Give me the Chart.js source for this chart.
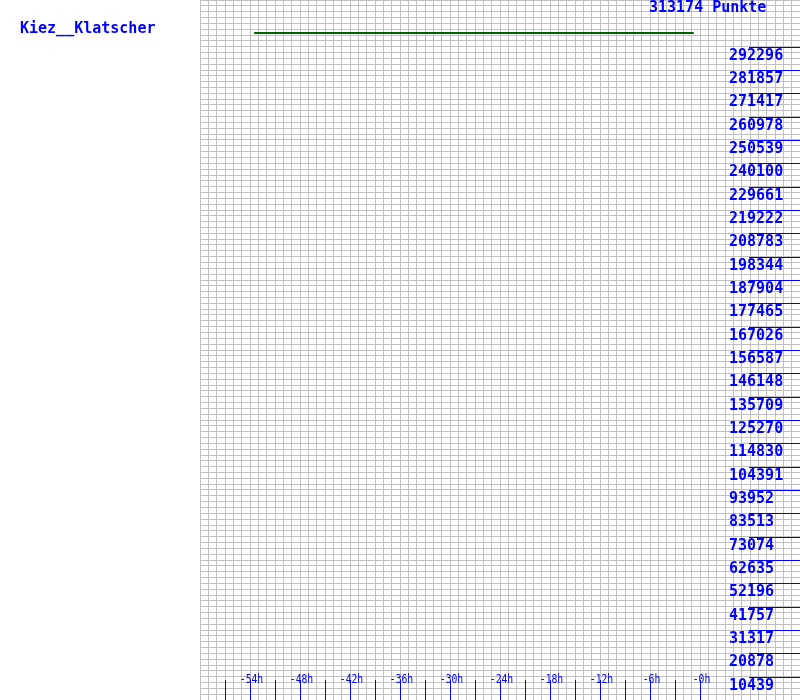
<!DOCTYPE html>
<html>
<head>
<meta charset="utf-8">
<script src="https://cdn.jsdelivr.net/npm/chart.js@4/dist/chart.umd.min.js"></script>
<style>
html,body{margin:0;padding:0;background:#fff;}
#wrap{width:800px;height:700px;}
</style>
</head>
<body>
<div id="wrap"><canvas id="c" width="800" height="700"></canvas></div>
<script>
// ---- data ----
const playerName = "Kiez__Klatscher";
const maxPoints = 313174;
const titleText = "313174 Punkte";
const hoursX = [-53.5, -0.75];
const pointsY = [298400, 298400];
const yTickLabels = [10439, 20878, 31317, 41757, 52196, 62635, 73074, 83513, 93952, 104391,
  114830, 125270, 135709, 146148, 156587, 167026, 177465, 187904, 198344, 208783,
  219222, 229661, 240100, 250539, 260978, 271417, 281857, 292296];
const xTickLabels = [-54, -48, -42, -36, -30, -24, -18, -12, -6, 0];
const xTickMarks = [-57, -54, -51, -48, -45, -42, -39, -36, -33, -30, -27, -24, -21, -18, -15, -12, -9, -6, -3, 0];
const xMin = -60, xMax = 12;
const gridRowsY = 120;

const BLUE = 'rgb(0,0,255)';

const decorPlugin = {
  id: 'decor',
  beforeDraw(chart) {
    const ctx = chart.ctx;
    ctx.save();
    ctx.fillStyle = '#ffffff';
    ctx.fillRect(0, 0, chart.width, chart.height);
    ctx.restore();
  },
  afterDatasetsDraw(chart) {
    const ctx = chart.ctx;
    const xs = chart.scales.x, ys = chart.scales.y;
    const area = chart.chartArea;
    ctx.save();
    ctx.globalAlpha = 1;
    ctx.globalCompositeOperation = 'source-over';
    ctx.fillStyle = BLUE;
    // y-axis marker lines and labels
    ctx.font = 'bold 15px "DejaVu Sans Mono"';
    ctx.textAlign = 'left';
    ctx.textBaseline = 'alphabetic';
    yTickLabels.forEach(v => {
      const py = Math.round(ys.getPixelForValue(v));
      ctx.fillRect(area.right - 51, py, 51, 1);
      ctx.fillText(String(v), area.right - 71, py + 12.5);
    });
    // bottom tick marks
    xTickMarks.forEach(h => {
      const px = Math.round(xs.getPixelForValue(h));
      ctx.fillRect(px, area.bottom - 20, 1, 20);
    });
    // bottom labels (narrow mono)
    ctx.font = '13px "DejaVu Sans Mono"';
    ctx.textAlign = 'center';
    xTickLabels.forEach(h => {
      const px = xs.getPixelForValue(h);
      ctx.save();
      ctx.translate(px + 1.5, area.bottom - 17.5);
      ctx.scale(0.75, 1);
      ctx.fillText('-' + Math.abs(h) + 'h', 0, 0);
      ctx.restore();
    });
    // titles
    ctx.font = 'bold 15px "DejaVu Sans Mono"';
    ctx.textAlign = 'left';
    ctx.fillText(titleText, 649, 11.5);
    ctx.fillText(playerName, 20, 32.5);
    ctx.restore();
  }
};

new Chart(document.getElementById('c'), {
  type: 'line',
  data: {
    datasets: [{
      data: hoursX.map((h, i) => ({x: h, y: pointsY[i]})),
      borderColor: '#006400',
      borderWidth: 2,
      pointRadius: 0,
      tension: 0,
      fill: false
    }]
  },
  options: {
    responsive: false,
    animation: false,
    devicePixelRatio: 1,
    layout: {padding: {left: 200, right: 0, top: 0, bottom: 0}},
    plugins: {legend: {display: false}, tooltip: {enabled: false}, title: {display: false}},
    scales: {
      x: {
        type: 'linear', min: xMin, max: xMax,
        ticks: {display: false, stepSize: 6},
        grid: {color: '#c0c0c0', lineWidth: 1, drawTicks: false},
        border: {display: false},
        afterBuildTicks(scale) {
          const t = [];
          for (let h = xMin; h <= xMax; h++) t.push({value: h});
          scale.ticks = t;
        }
      },
      y: {
        type: 'linear', min: 0, max: maxPoints,
        ticks: {display: false},
        grid: {color: '#c0c0c0', lineWidth: 1, drawTicks: false},
        border: {display: false},
        afterBuildTicks(scale) {
          const t = [];
          for (let k = 0; k <= gridRowsY; k++) t.push({value: maxPoints * k / gridRowsY});
          scale.ticks = t;
        }
      }
    }
  },
  plugins: [decorPlugin]
});
</script>
</body>
</html>
